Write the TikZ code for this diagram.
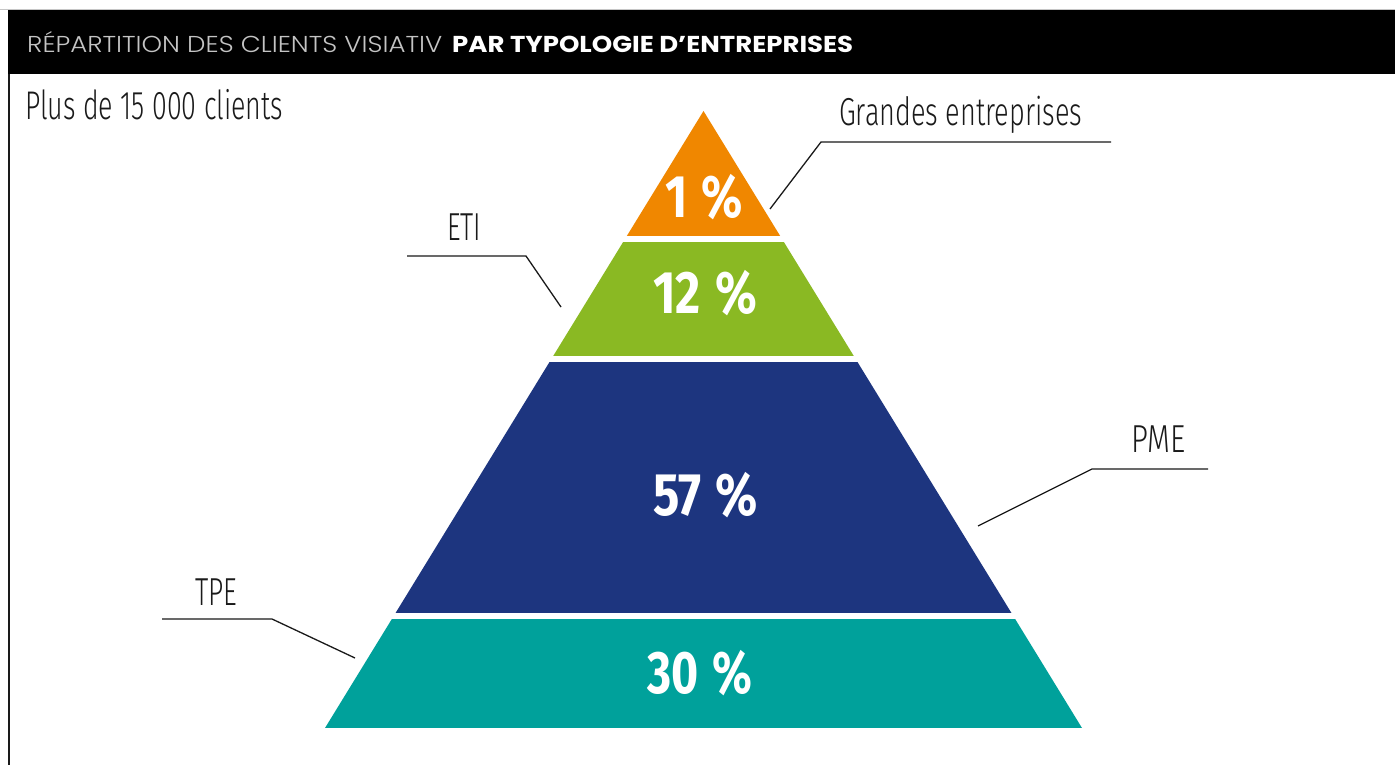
\documentclass[tikz,border=0pt]{standalone}
\usepackage{fontspec}
\usepackage{graphicx}
\setmainfont{Fira Sans}
\newfontfamily\labelfont{Fira Sans}[UprightFont=* Light]
\newfontfamily\pctfont{Fira Sans}[UprightFont=* Bold]
\newfontfamily\hdrlight{Poppins}[UprightFont=* Light]
\newfontfamily\hdrbold{Poppins}[UprightFont=* Bold]
% squeeze a text to a given width, keeping its height
\newcommand\fitwidth[2]{\resizebox{#1}{\height}{#2}}
% share value followed by a spaced percent sign
\newcommand\share[1]{#1\hspace{0.3em}\%}

\definecolor{georange}{HTML}{F08700}
\definecolor{etigreen}{HTML}{8AB923}
\definecolor{pmenavy}{HTML}{1D357F}
\definecolor{tpeteal}{HTML}{00A19B}
\definecolor{hdrgray}{HTML}{C4C4C4}
\definecolor{ink}{HTML}{1A1A1A}

\begin{document}
\begin{tikzpicture}[x=1pt,y=-1pt,
  lbl/.style={anchor=base west, inner sep=0pt, text=ink,
    font=\labelfont\fontsize{39}{39}\selectfont},
  pct/.style={anchor=base, inner sep=0pt, text=white,
    font=\pctfont\fontsize{60}{60}\selectfont},
  leader/.style={draw=ink, line width=1.3pt, line join=miter},
  hdr/.style={anchor=base west, inner sep=0pt}]

\useasboundingbox (0,0) rectangle (1395,765);
\fill[white] (0,0) rectangle (1395,765);

% title bar
\fill[black] (8,10) rectangle (1395,74);
\draw[gray!45, line width=0.8pt] (0,9.5) -- (1395,9.5);
\draw[ink, line width=1.5pt] (9,74) -- (9,765);
\node[hdr, text=hdrgray, font=\hdrlight\fontsize{23}{23}\selectfont] (titleA) at (27,53)
  {\fitwidth{415pt}{RÉPARTITION DES CLIENTS VISIATIV}};
\node[hdr, text=white, font=\hdrbold\fontsize{23}{23}\selectfont] (titleB) at (452,53)
  {\fitwidth{401pt}{PAR TYPOLOGIE D’ENTREPRISES}};

\node[lbl, font=\labelfont\fontsize{40}{40}\selectfont] (total) at (25,120)
  {\fitwidth{258pt}{Plus de 15 000 clients}};

% pyramid
\coordinate (apex) at (703.5,111);
\coordinate (bl) at (325,728);
\coordinate (br) at (1082,728);
\begin{scope}
  \clip (apex) -- (bl) -- (br) -- cycle;
  \fill[georange] (300,100) rectangle (1100,236);
  \fill[etigreen] (300,242) rectangle (1100,356);
  \fill[pmenavy]  (300,362) rectangle (1100,613);
  \fill[tpeteal]  (300,619) rectangle (1100,728);
\end{scope}

\node[pct] (p1)  at (704,217)   {\fitwidth{78pt}{\share{1}}};
\node[pct] (p12) at (705,313)   {\fitwidth{104pt}{\share{12}}};
\node[pct] (p57) at (705.5,515) {\fitwidth{105pt}{\share{57}}};
\node[pct] (p30) at (699.5,693) {\fitwidth{105pt}{\share{30}}};

% category labels with leader lines
\node[lbl] (ge)  at (839,126)  {\fitwidth{243pt}{Grandes entreprises}};
\node[lbl] (eti) at (447,240)  {\fitwidth{34pt}{ETI}};
\node[lbl] (pme) at (1131,452) {\fitwidth{54pt}{PME}};
\node[lbl] (tpe) at (195,605)  {\fitwidth{42pt}{TPE}};

\coordinate (geTip)  at (770,209);
\coordinate (geKnee) at (821,142);
\coordinate (geEnd)  at (1111,142);
\draw[leader] (geTip) -- (geKnee) -- (geEnd);

\coordinate (etiTip)  at (561,307);
\coordinate (etiKnee) at (526,256);
\coordinate (etiEnd)  at (407,256);
\draw[leader] (etiTip) -- (etiKnee) -- (etiEnd);

\coordinate (pmeTip)  at (978,526);
\coordinate (pmeKnee) at (1092,469);
\coordinate (pmeEnd)  at (1208,469);
\draw[leader] (pmeTip) -- (pmeKnee) -- (pmeEnd);

\coordinate (tpeTip)  at (355,658);
\coordinate (tpeKnee) at (272,619);
\coordinate (tpeEnd)  at (162,619);
\draw[leader] (tpeTip) -- (tpeKnee) -- (tpeEnd);
\end{tikzpicture}
\end{document}
